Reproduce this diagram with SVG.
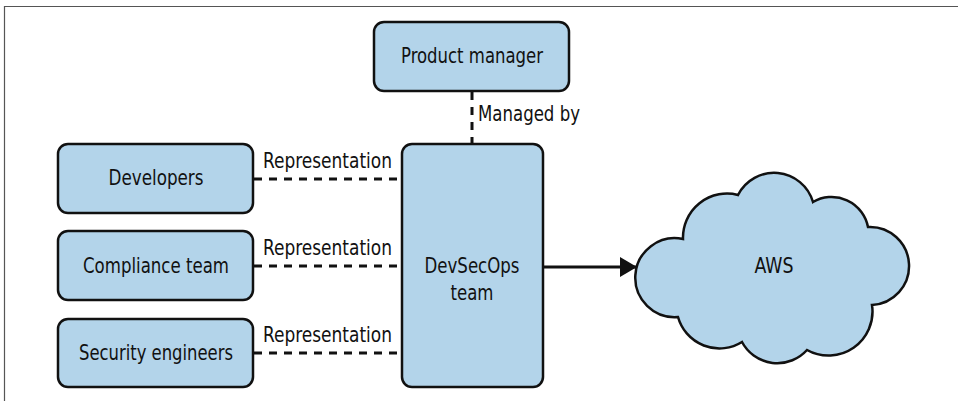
<svg xmlns="http://www.w3.org/2000/svg" width="958" height="401" viewBox="0 0 958 401">
<style>
.node{fill:#b3d4ea;stroke:#111;stroke-width:2.5}
.t{font-family:"DejaVu Sans Condensed","Liberation Sans Narrow","Liberation Sans",sans-serif;font-size:21.5px;fill:#111}
.dash{stroke:#111;stroke-width:3;stroke-dasharray:8 7;fill:none}
</style>
<defs>
<marker id="arr" markerWidth="17" markerHeight="20" refX="17" refY="10" orient="auto" markerUnits="userSpaceOnUse">
<polygon points="0,0 17,10 0,20" fill="#111"/>
</marker>
</defs>
<rect width="958" height="401" fill="#fff"/>
<path d="M4.5,401 V6.5 H958" fill="none" stroke="#555" stroke-width="1.2"/>
<g id="connectors">
<line class="dash" x1="472" y1="92" x2="472" y2="143"/>
<line class="dash" x1="254" y1="179" x2="401" y2="179"/>
<line class="dash" x1="254" y1="266" x2="401" y2="266"/>
<line class="dash" x1="254" y1="353" x2="401" y2="353"/>
<line x1="543" y1="267" x2="637" y2="267" stroke="#111" stroke-width="3" marker-end="url(#arr)"/>
<text class="t" x="478" y="121" textLength="102" lengthAdjust="spacingAndGlyphs">Managed by</text>
<text class="t" x="263" y="168" textLength="129" lengthAdjust="spacingAndGlyphs">Representation</text>
<text class="t" x="263" y="255" textLength="129" lengthAdjust="spacingAndGlyphs">Representation</text>
<text class="t" x="263" y="342" textLength="129" lengthAdjust="spacingAndGlyphs">Representation</text>
</g>
<g id="product-manager">
<rect class="node" x="374" y="22" width="195" height="69" rx="10"/>
<text class="t" x="472" y="63" text-anchor="middle" textLength="142" lengthAdjust="spacingAndGlyphs">Product manager</text>
</g>
<g id="developers">
<rect class="node" x="58" y="144" width="195" height="69" rx="10"/>
<text class="t" x="156" y="185" text-anchor="middle" textLength="95" lengthAdjust="spacingAndGlyphs">Developers</text>
</g>
<g id="compliance-team">
<rect class="node" x="58" y="231" width="195" height="69" rx="10"/>
<text class="t" x="156" y="273" text-anchor="middle" textLength="146" lengthAdjust="spacingAndGlyphs">Compliance team</text>
</g>
<g id="security-engineers">
<rect class="node" x="58" y="319" width="195" height="68" rx="10"/>
<text class="t" x="156" y="360" text-anchor="middle" textLength="154" lengthAdjust="spacingAndGlyphs">Security engineers</text>
</g>
<g id="devsecops-team">
<rect class="node" x="402" y="144" width="141" height="243" rx="10"/>
<text class="t" x="472" y="273" text-anchor="middle" textLength="95" lengthAdjust="spacingAndGlyphs">DevSecOps</text>
<text class="t" x="472" y="300" text-anchor="middle" textLength="43" lengthAdjust="spacingAndGlyphs">team</text>
</g>
<g id="aws">
<path class="node" d="M683,239 A39.5,39.5 0 1 0 678,317 A43,43 0 0 0 742,342 A40,40 0 0 0 807,350 A44,44 0 0 0 872,305 A39,39 0 1 0 868,227 A37,37 0 0 0 813,202 A40.5,40.5 0 0 0 738,195 A44,44 0 0 0 683,239 Z"/>
<text class="t" x="774" y="273" text-anchor="middle" textLength="39" lengthAdjust="spacingAndGlyphs">AWS</text>
</g>
</svg>
